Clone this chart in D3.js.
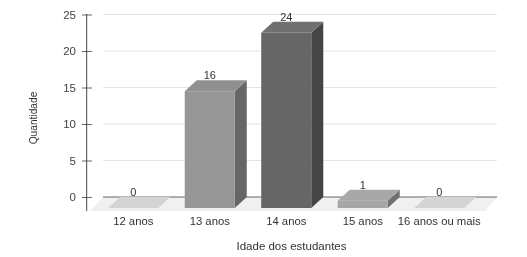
<!DOCTYPE html>
<html><head><meta charset="utf-8">
<script src="https://cdn.jsdelivr.net/npm/d3@7"></script>
<style>
html,body{margin:0;padding:0;background:#fff}
svg{display:block;filter:blur(0.45px)}
text{font-family:"Liberation Sans",Arial,sans-serif;fill:#333}
</style></head><body>
<svg id="c" width="527" height="257"></svg>
<script>
const categories = ["12 anos","13 anos","14 anos","15 anos","16 anos ou mais"];
const values = [0,16,24,1,0];
const labels = ["0","16","24","1","0"];
const yTicks = [0,5,10,15,20,25];
const frontColors = ["#d4d4d4","#969696","#666666","#a6a6a6","#d4d4d4"];
const topColors = ["#d4d4d4","#909090","#707070","#a8a8a8","#d4d4d4"];
const sideColors = ["#b0b0b0","#666666","#454545","#707070","#b0b0b0"];
const xTitle = "Idade dos estudantes";
const yTitle = "Quantidade";

const svg = d3.select("#c");
const y = d3.scaleLinear().domain([0,25]).range([197,14.5]);
const x = d3.scaleBand().domain(categories).range([95,477.5]).paddingInner(0.346).paddingOuter(0.173);
const dx = 12, dy = 11;
const floorFront = 211, gridL = 103, gridR = 497;

// floor
svg.append("path")
  .attr("d", d3.line()([[gridL,y(0)],[gridR,y(0)],[gridR-dx,floorFront],[gridL-13,floorFront]])+"Z")
  .attr("fill","#f0f0f0");

// grid
svg.append("g").selectAll("line").data(yTicks.filter(d=>d>0)).join("line")
  .attr("x1",gridL).attr("x2",gridR).attr("y1",d=>y(d)).attr("y2",d=>y(d))
  .attr("stroke","#e4e4e4").attr("stroke-width",1);
svg.append("line").attr("x1",gridL).attr("x2",gridR).attr("y1",y(0)).attr("y2",y(0))
  .attr("stroke","#555").attr("stroke-width",0.9);

// bars
const bars = svg.append("g").selectAll("g").data(categories).join("g");
bars.each(function(c,i){
  const g = d3.select(this), l = x(c), r = l + x.bandwidth(), t = y(values[i]), b = y(0);
  g.append("path").attr("fill",sideColors[i])
    .attr("d", d3.line()([[r,t+dy],[r+dx,t],[r+dx,b],[r,b+dy]])+"Z");
  g.append("path").attr("fill",topColors[i])
    .attr("d", d3.line()([[l,t+dy],[l+dx,t],[r+dx,t],[r,t+dy]])+"Z");
  g.append("rect").attr("fill",frontColors[i])
    .attr("x",l).attr("y",t+dy).attr("width",x.bandwidth()).attr("height",b-t);
  g.append("text").text(labels[i]).attr("x",l+x.bandwidth()/2).attr("y",t-1)
    .attr("text-anchor","middle").attr("font-size",11);
  g.append("text").text(c).attr("x",l+x.bandwidth()/2).attr("y",224.5)
    .attr("text-anchor","middle").attr("font-size",11.3);
});

// y axis
const ax = svg.append("g").attr("transform","translate(87,0)")
  .call(d3.axisLeft(y).tickValues(yTicks).tickSize(0).tickPadding(11));
ax.select(".domain").remove();
ax.selectAll("text").attr("font-size",11.5).style("font-family",'"Liberation Sans",Arial,sans-serif').style("fill","#444");
ax.selectAll(".tick").append("line").attr("x1",-5).attr("x2",5).attr("stroke","#444").attr("stroke-width",0.8);
svg.append("line").attr("x1",86.7).attr("x2",86.7).attr("y1",14).attr("y2",211).attr("stroke","#333").attr("stroke-width",0.9);

svg.append("text").text(xTitle).attr("x",291.5).attr("y",250).attr("text-anchor","middle").attr("font-size",11.5);
svg.append("text").text(yTitle).attr("transform","translate(37,118) rotate(-90)").attr("text-anchor","middle").attr("font-size",10.2);
</script></body></html>
